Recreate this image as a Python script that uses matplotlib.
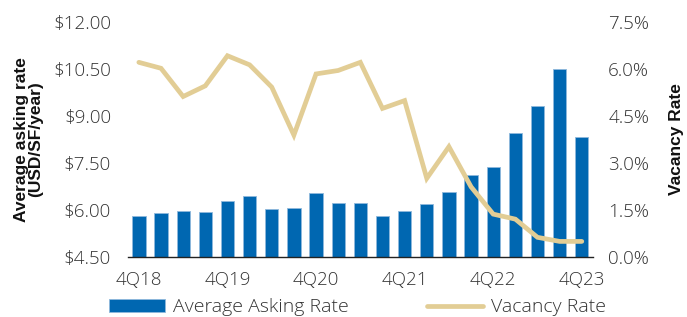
import matplotlib
matplotlib.use("Agg")
import matplotlib.pyplot as plt
from matplotlib.ticker import FuncFormatter
from matplotlib import font_manager

quarters = ["4Q18", "1Q19", "2Q19", "3Q19", "4Q19", "1Q20", "2Q20", "3Q20", "4Q20",
            "1Q21", "2Q21", "3Q21", "4Q21", "1Q22", "2Q22", "3Q22", "4Q22",
            "1Q23", "2Q23", "3Q23", "4Q23"]
asking_rate = [5.80, 5.91, 5.98, 5.94, 6.29, 6.44, 6.03, 6.05, 6.53, 6.22, 6.22,
               5.82, 5.96, 6.19, 6.58, 7.12, 7.36, 8.45, 9.33, 10.50, 8.33]
vacancy_rate = [6.21, 6.02, 5.12, 5.46, 6.42, 6.13, 5.42, 3.89, 5.84, 5.95, 6.21,
                4.74, 4.99, 2.51, 3.52, 2.24, 1.37, 1.21, 0.63, 0.50, 0.50]
left_ticks = [4.5, 6.0, 7.5, 9.0, 10.5, 12.0]
right_ticks = [0.0, 1.5, 3.0, 4.5, 6.0, 7.5]
xtick_labels = ["4Q18", "4Q19", "4Q20", "4Q21", "4Q22", "4Q23"]

plt.rcParams['font.family'] = ['Open Sans', 'DejaVu Sans']
bar_color = "#0067b1"
line_color = "#e2cd95"
text_color = "#333333"
tick_size = 13.5

fig = plt.figure(figsize=(6.87, 3.17), dpi=100)
ax = fig.add_axes([0.186, 0.189, 0.677, 0.742])
x = list(range(len(quarters)))
bars = ax.bar(x, asking_rate, width=0.6, color=bar_color, edgecolor="#8fb9dc",
              linewidth=0.6, label="Average Asking Rate", zorder=2)
ax.set_ylim(4.5, 12.0)
ax.set_xlim(-0.5, 20.5)
ax.set_yticks(left_ticks)
ax.yaxis.set_major_formatter(FuncFormatter(lambda v, p: f"${v:.2f}"))
ax.set_xticks([quarters.index(q) for q in xtick_labels])
ax.set_xticklabels(xtick_labels)
for s in ["top", "right", "left"]:
    ax.spines[s].set_visible(False)
ax.spines["bottom"].set_color("#222222")
ax.spines["bottom"].set_linewidth(1.0)
ax.tick_params(axis="both", length=0, labelsize=tick_size, colors=text_color)
ax.tick_params(axis="y", pad=12)
ax.tick_params(axis="x", pad=10)
for lab in ax.get_xticklabels() + ax.get_yticklabels():
    lab.set_fontweight("light")
ax.set_ylabel("Average asking rate\n(USD/SF/year)", fontsize=12.5, fontweight="bold",
              family=["Liberation Sans"], color="#111111", labelpad=7, linespacing=0.95)

ax2 = ax.twinx()
line, = ax2.plot(x, vacancy_rate, color=line_color, linewidth=3.4,
                 solid_capstyle="round", solid_joinstyle="miter", label="Vacancy Rate", zorder=3)
ax2.set_ylim(0, 7.5)
ax2.set_yticks(right_ticks)
ax2.yaxis.set_major_formatter(FuncFormatter(lambda v, p: f"{v:.1f}%"))
for s in ["top", "right", "left", "bottom"]:
    ax2.spines[s].set_visible(False)
ax2.tick_params(axis="y", length=0, labelsize=tick_size, colors=text_color, pad=11)
for lab in ax2.get_yticklabels():
    lab.set_fontweight("light")
ax2.set_ylabel("Vacancy Rate", fontsize=12.5, fontweight="bold", family=["Liberation Sans"],
               color="#111111", labelpad=14)

leg = fig.legend(handles=[bars, line], labels=["Average Asking Rate", "Vacancy Rate"],
                 loc="center", bbox_to_anchor=(0.52, 0.03), ncol=2, frameon=False,
                 fontsize=14, handlelength=2.9, handletextpad=0.4, columnspacing=4.0)
for t in leg.get_texts():
    t.set_fontweight("light")
    t.set_color(text_color)

fig.savefig("out.png", dpi=100)
